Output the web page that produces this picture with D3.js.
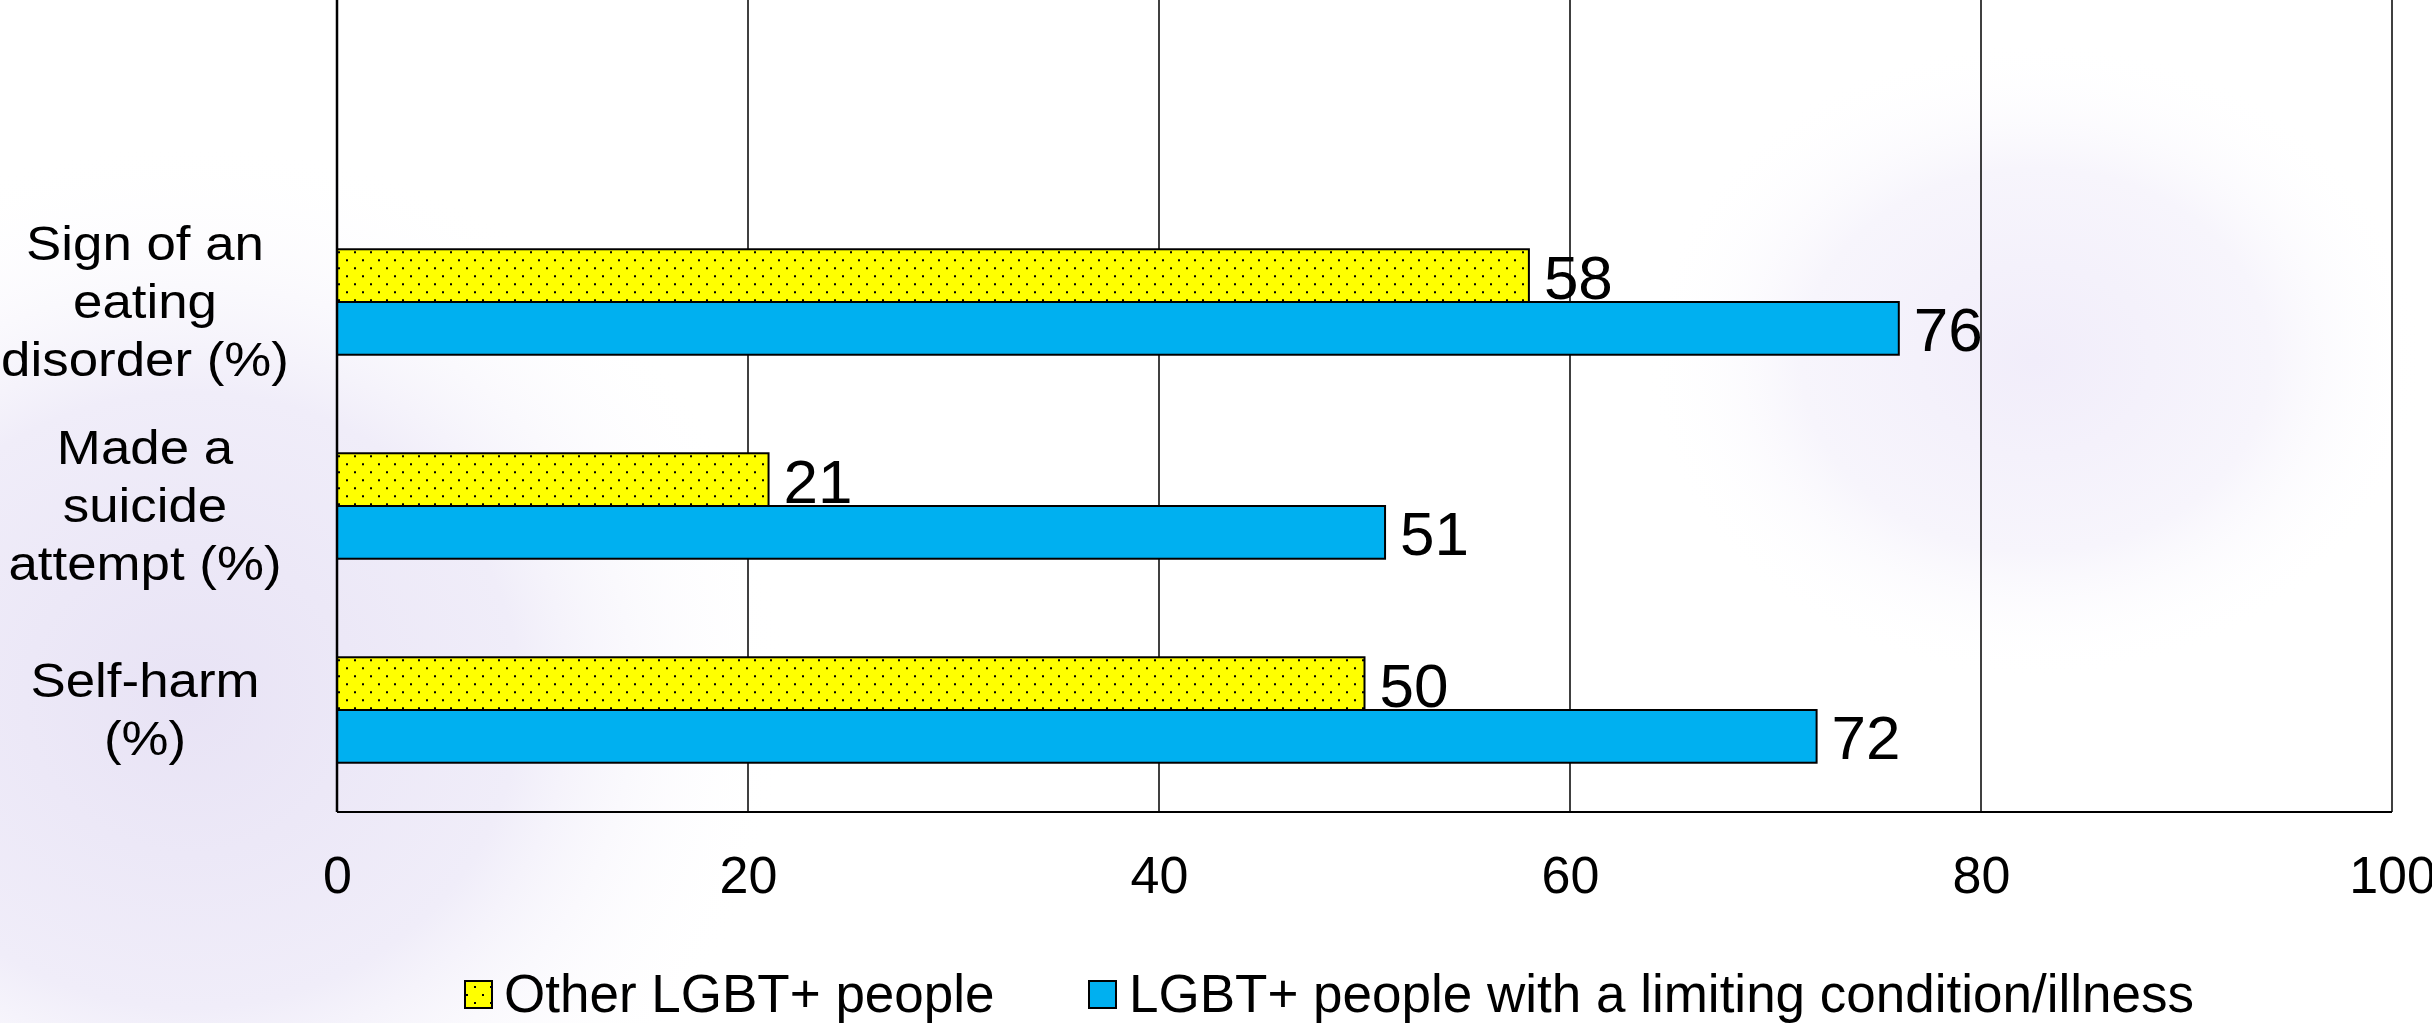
<!DOCTYPE html>
<html>
<head>
<meta charset="utf-8">
<script src="https://cdn.jsdelivr.net/npm/d3@7"></script>
<style>
  html, body { margin: 0; padding: 0; background: #ffffff; }
  svg { display: block; font-family: "Liberation Sans", Arial, sans-serif; }
</style>
</head>
<body>
<svg id="chart" width="2432" height="1023"></svg>
<script>
// ---- data ----
const categories = ["Self-harm (%)", "Made a suicide attempt (%)", "Sign of an eating disorder (%)"];
const categoryLines = [["Self-harm", "(%)"], ["Made a", "suicide", "attempt (%)"], ["Sign of an", "eating", "disorder (%)"]];
const seriesNames = ["Other LGBT+ people", "LGBT+ people with a limiting condition/illness"];
const otherValues = [50, 21, 58];
const limitingValues = [72, 51, 76];
const xTickValues = [0, 20, 40, 60, 80, 100];

// ---- layout ----
const W = 2432, H = 1023;
const plotLeft = 337, plotRight = 2392, plotBottom = 812, plotTop = 0;
const svg = d3.select("#chart");
const defs = svg.append("defs");

// background glows
const g1 = defs.append("radialGradient").attr("id", "glowL").attr("cx", 0.5).attr("cy", 0.5).attr("r", 0.5);
g1.append("stop").attr("offset", "0%").attr("stop-color", "#e8e3f5");
g1.append("stop").attr("offset", "55%").attr("stop-color", "#f0edf9");
g1.append("stop").attr("offset", "100%").attr("stop-color", "#ffffff").attr("stop-opacity", 0);
const g2 = defs.append("radialGradient").attr("id", "glowR").attr("cx", 0.5).attr("cy", 0.5).attr("r", 0.5);
g2.append("stop").attr("offset", "0%").attr("stop-color", "#f1edfa");
g2.append("stop").attr("offset", "60%").attr("stop-color", "#f7f5fc");
g2.append("stop").attr("offset", "100%").attr("stop-color", "#ffffff").attr("stop-opacity", 0);

svg.append("rect").attr("width", W).attr("height", H).attr("fill", "#ffffff");
svg.append("ellipse").attr("cx", 190).attr("cy", 700).attr("rx", 600).attr("ry", 560).attr("fill", "url(#glowL)");
svg.append("ellipse").attr("cx", 2035).attr("cy", 360).attr("rx", 390).attr("ry", 320).attr("fill", "url(#glowR)");

// dotted yellow pattern
const pat = defs.append("pattern").attr("id", "dots").attr("patternUnits", "userSpaceOnUse")
  .attr("width", 16).attr("height", 16).attr("x", 0).attr("y", 0);
pat.append("rect").attr("width", 16).attr("height", 16).attr("fill", "#ffff00");
pat.append("rect").attr("x", 2).attr("y", 2).attr("width", 2).attr("height", 2).attr("fill", "#000");
pat.append("rect").attr("x", 10).attr("y", 10).attr("width", 2).attr("height", 2).attr("fill", "#000");

const colors = ["url(#dots)", "#00b0f0"];

// scales
const x = d3.scaleLinear().domain([0, 100]).range([plotLeft, plotRight]);
const y = d3.scaleBand().domain(categories).range([plotBottom, 200]).paddingInner(0.483).paddingOuter(0.2415);
const ySub = d3.scaleBand().domain([0, 1]).range([0, y.bandwidth()]);

// gridlines
svg.append("g").selectAll("line").data(xTickValues.filter(d => d > 0)).join("line")
  .attr("x1", d => x(d)).attr("x2", d => x(d)).attr("y1", plotTop).attr("y2", plotBottom)
  .attr("stroke", "#000").attr("stroke-width", 1.5);

// bars
const rows = categories.map((c, i) => ({ cat: c, vals: [otherValues[i], limitingValues[i]] }));
const grp = svg.append("g").selectAll("g").data(rows).join("g")
  .attr("transform", d => `translate(0,${y(d.cat)})`);
grp.selectAll("rect").data(d => d.vals.map((v, k) => ({ v, k }))).join("rect")
  .attr("x", x(0)).attr("y", d => ySub(d.k))
  .attr("width", d => x(d.v) - x(0)).attr("height", ySub.bandwidth())
  .attr("fill", d => colors[d.k]).attr("stroke", "#000").attr("stroke-width", 2);
grp.selectAll("text").data(d => d.vals.map((v, k) => ({ v, k }))).join("text")
  .attr("x", d => x(d.v) + 15).attr("y", d => ySub(d.k) + ySub.bandwidth() / 2 + 23)
  .attr("font-size", 62).attr("fill", "#000").text(d => d.v);

// axes lines
svg.append("line").attr("x1", plotLeft).attr("x2", plotLeft).attr("y1", plotTop).attr("y2", plotBottom)
  .attr("stroke", "#000").attr("stroke-width", 2.5);
svg.append("line").attr("x1", plotLeft).attr("x2", plotRight).attr("y1", plotBottom).attr("y2", plotBottom)
  .attr("stroke", "#000").attr("stroke-width", 2);

// x axis labels
const xAxis = d3.axisBottom(x).tickValues(xTickValues).tickSize(0).tickPadding(0);
const ax = svg.append("g").attr("transform", `translate(0,${plotBottom})`).call(xAxis);
ax.select(".domain").remove();
ax.selectAll("text").attr("y", 81).attr("dy", 0).attr("font-size", 52)
  .attr("font-family", "Liberation Sans, Arial, sans-serif").attr("fill", "#000");

// category labels
categories.forEach((c, i) => {
  const lines = categoryLines[i];
  const cy = y(c) + y.bandwidth() / 2;
  lines.forEach((ln, j) => {
    const by = cy + 16 + (j - (lines.length - 1) / 2) * 58;
    svg.append("text").attr("transform", `translate(145,${by}) scale(1.09,1)`)
      .attr("text-anchor", "middle").attr("font-size", 48.5).attr("fill", "#000").text(ln);
  });
});

// legend
const legendX = [465, 1089];
const legendTextX = [504, 1129];
seriesNames.forEach((s, k) => {
  svg.append("rect").attr("x", legendX[k]).attr("y", 981).attr("width", 27).attr("height", 27)
    .attr("fill", colors[k]).attr("stroke", "#000").attr("stroke-width", 2);
  svg.append("text").attr("x", legendTextX[k]).attr("y", 1012).attr("font-size", 53)
    .attr("fill", "#000").text(s);
});
</script>
</body>
</html>
